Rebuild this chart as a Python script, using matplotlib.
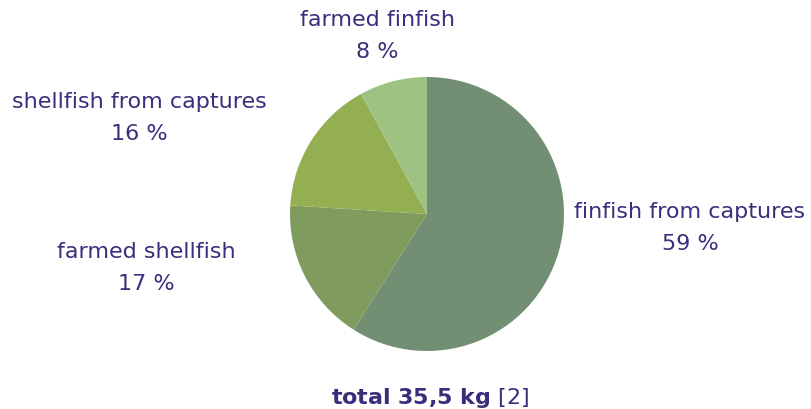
import matplotlib
matplotlib.use("Agg")
import matplotlib.pyplot as plt

LABELS = ["finfish from captures", "farmed shellfish", "shellfish from captures", "farmed finfish"]
SHARES = [59, 17, 16, 8]
COLORS = ["#728e73", "#7f9b5d", "#94af52", "#9dc282"]
TOTAL_KG = "35,5"
SOURCE = "[2]"

TEXT_COLOR = "#3a2e7c"
FONT = ["DejaVu Sans"]

# label anchor points in pixel coordinates (x, y from top)
LABEL_POS = {
    "finfish from captures": (690, 228),
    "farmed shellfish": (146, 268),
    "shellfish from captures": (139, 118),
    "farmed finfish": (377, 36),
}

W, H = 811, 410
fig = plt.figure(figsize=(W / 100, H / 100), dpi=100)
ax = fig.add_axes([0, 0, 1, 1])

ax.pie(
    SHARES,
    colors=COLORS,
    startangle=90,
    counterclock=False,
    center=(427, H - 215),
    radius=137,
    wedgeprops={"linewidth": 0},
    frame=True,
)
ax.set_xlim(0, W)
ax.set_ylim(0, H)
ax.set_aspect("equal")
ax.axis("off")

for label, share in zip(LABELS, SHARES):
    x, y = LABEL_POS[label]
    ax.text(x, H - y, f"{label}\n{share} %", ha="center", va="center",
            color=TEXT_COLOR, fontsize=16, family=FONT, linespacing=1.75)

ax.text(430, H - 398, f"$\\bf{{total\\ {TOTAL_KG.replace(',', '{,}')}\\ kg}}$ {SOURCE}",
        ha="center", va="center", color=TEXT_COLOR, fontsize=16, family=FONT)

fig.savefig("out.png", dpi=100)
